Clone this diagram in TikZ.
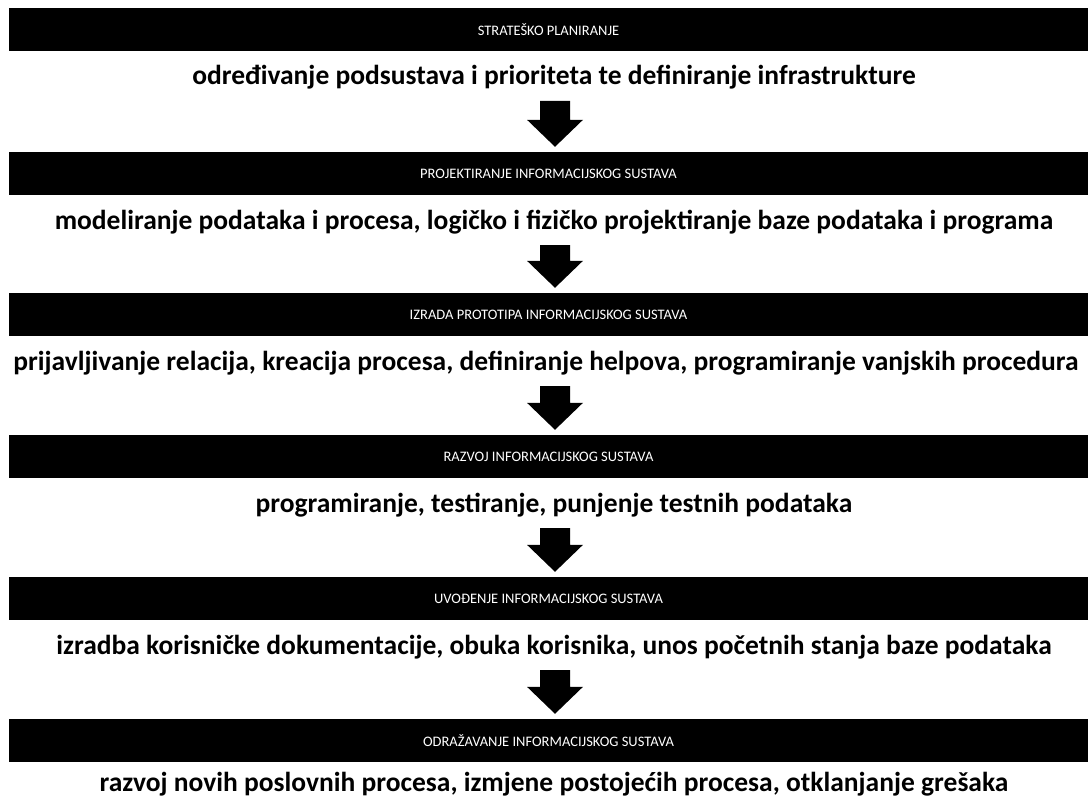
\documentclass[tikz,border=0pt]{standalone}
\usepackage{fontspec}
\setmainfont{Carlito}
\usetikzlibrary{calc}
\tikzset{
  phase/.style={fill=black,text=white,minimum width=1079pt,minimum height=43pt,
    inner sep=0pt,font=\fontsize{14.5}{16}\selectfont},
  task/.style={anchor=base,inner sep=0pt,font=\bfseries\fontsize{27.5}{32}\selectfont},
  bigarrow/.style={fill=black,to path={let \p1=(\tikztostart),\p2=(\tikztotarget) in
    (\x1-15pt,\y1) -- (\x1+15pt,\y1) -- (\x1+15pt,\y2+32pt) -- (\x1+28pt,\y2+32pt)
    -- (\x1,\y2+5pt) -- (\x1-28pt,\y2+32pt) -- (\x1-15pt,\y2+32pt) -- cycle}}
}
\begin{document}
\begin{tikzpicture}[x=1pt,y=-1pt]
\useasboundingbox (0,0) rectangle (1092,797);
\node[phase] (ph1) at (548.5,29.5) {STRATEŠKO PLANIRANJE};
\node[task] (t1) at (554,85) {određivanje podsustava i prioriteta te definiranje infrastrukture};
\node[phase] (ph2) at (548.5,173.5) {PROJEKTIRANJE INFORMACIJSKOG SUSTAVA};
\node[task] (t2) at (554,229) {modeliranje podataka i procesa, logičko i fizičko projektiranje baze podataka i programa};
\node[phase] (ph3) at (548.5,314.5) {IZRADA PROTOTIPA INFORMACIJSKOG SUSTAVA};
\node[task] (t3) at (546,370) {prijavljivanje relacija, kreacija procesa, definiranje helpova, programiranje vanjskih procedura};
\node[phase] (ph4) at (548.5,456.5) {RAZVOJ INFORMACIJSKOG SUSTAVA};
\node[task] (t4) at (554,512) {programiranje, testiranje, punjenje testnih podataka};
\node[phase] (ph5) at (548.5,598.5) {UVOĐENJE INFORMACIJSKOG SUSTAVA};
\node[task] (t5) at (554,654) {izradba korisničke dokumentacije, obuka korisnika, unos početnih stanja baze podataka};
\node[phase] (ph6) at (548.5,740.5) {ODRAŽAVANJE INFORMACIJSKOG SUSTAVA};
\node[task] (t6) at (554,791) {razvoj novih poslovnih procesa, izmjene postojećih procesa, otklanjanje grešaka};

\coordinate (a1) at (555,101);
\coordinate (a2) at (555,245);
\coordinate (a3) at (555,386);
\coordinate (a4) at (555,528);
\coordinate (a5) at (555,670);
\path[bigarrow] (a1) to (ph2.north);
\path[bigarrow] (a2) to (ph3.north);
\path[bigarrow] (a3) to (ph4.north);
\path[bigarrow] (a4) to (ph5.north);
\path[bigarrow] (a5) to (ph6.north);
\end{tikzpicture}
\end{document}
